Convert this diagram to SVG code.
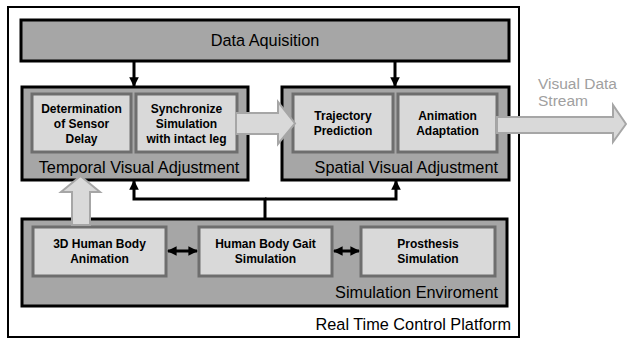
<svg xmlns="http://www.w3.org/2000/svg" width="627" height="339" viewBox="0 0 627 339">
<style>
.group{fill:#a6a6a6;stroke:#000;stroke-width:3}
.inner{fill:#d9d9d9;stroke:#6e6e6e;stroke-width:3}
.t{font-family:"Liberation Sans",Arial,sans-serif;fill:#000}
.b{font-family:"Liberation Sans",Arial,sans-serif;font-weight:bold;font-size:12px;fill:#000;text-anchor:middle}
.big{font-size:16.3px}
.grey{fill:#a0a0a0;font-size:15.5px}
.conn{fill:none;stroke:#000;stroke-width:3}
.hollow{fill:#d9d9d9;stroke:#a6a6a6;stroke-width:2}
</style>
<defs>
<marker id="ah" viewBox="0 0 10 10" refX="9" refY="5" markerWidth="3.2" markerHeight="3.2" orient="auto-start-reverse" markerUnits="strokeWidth">
<path d="M0,0 L10,5 L0,10 z" fill="#000"/>
</marker>
</defs>
<rect width="627" height="339" fill="#fff"/>
<g id="platform">
<rect x="8" y="7" width="511" height="330" fill="#fff" stroke="#000" stroke-width="2"/>
<text class="t big" x="511" y="330" text-anchor="end">Real Time Control Platform</text>
</g>
<g id="data-aquisition">
<rect class="group" x="21" y="20" width="488" height="41"/>
<text class="t big" x="265" y="46" text-anchor="middle">Data Aquisition</text>
</g>
<g id="temporal">
<rect class="group" x="22" y="87" width="226" height="93"/>
<text class="t big" x="139" y="173" text-anchor="middle">Temporal Visual Adjustment</text>
</g>
<g id="sensor-delay">
<rect class="inner" x="32" y="94" width="99" height="58"/>
<text class="b" x="81.5" y="113">Determination</text>
<text class="b" x="81.5" y="128">of Sensor</text>
<text class="b" x="81.5" y="143">Delay</text>
</g>
<g id="synchronize">
<rect class="inner" x="136" y="94" width="101" height="58"/>
<text class="b" x="186.5" y="113">Synchronize</text>
<text class="b" x="186.5" y="128">Simulation</text>
<text class="b" x="186.5" y="143">with intact leg</text>
</g>
<g id="spatial">
<rect class="group" x="282" y="87" width="227" height="93"/>
<text class="t big" x="498" y="173" text-anchor="end">Spatial Visual Adjustment</text>
</g>
<g id="trajectory">
<rect class="inner" x="293" y="94" width="100" height="58"/>
<text class="b" x="343" y="120">Trajectory</text>
<text class="b" x="343" y="135">Prediction</text>
</g>
<g id="animation-adaptation">
<rect class="inner" x="398" y="94" width="99" height="58"/>
<text class="b" x="447.5" y="120">Animation</text>
<text class="b" x="447.5" y="135">Adaptation</text>
</g>
<g id="simulation">
<rect class="group" x="22" y="219" width="485" height="87"/>
<text class="t big" x="498" y="298" text-anchor="end">Simulation Enviroment</text>
</g>
<g id="human-animation">
<rect class="inner" x="33" y="227" width="133" height="49"/>
<text class="b" x="99.5" y="248">3D Human Body</text>
<text class="b" x="99.5" y="263">Animation</text>
</g>
<g id="gait">
<rect class="inner" x="199" y="227" width="133" height="49"/>
<text class="b" x="265.5" y="248">Human Body Gait</text>
<text class="b" x="265.5" y="263">Simulation</text>
</g>
<g id="prosthesis">
<rect class="inner" x="361" y="227" width="134" height="49"/>
<text class="b" x="428" y="248">Prosthesis</text>
<text class="b" x="428" y="263">Simulation</text>
</g>
<g id="visual-data-label">
<text class="t grey" x="538" y="89">Visual Data</text>
<text class="t grey" x="538" y="106">Stream</text>
</g>
<g id="connectors">
<path class="conn" d="M134,61 V86" marker-end="url(#ah)"/>
<path class="conn" d="M395,61 V86" marker-end="url(#ah)"/>
<path class="conn" d="M265,219 V199 H134 V181" marker-end="url(#ah)"/>
<path class="conn" d="M265,199 H396 V181" marker-end="url(#ah)"/>
<path class="conn" d="M168,251 H197" marker-start="url(#ah)" marker-end="url(#ah)"/>
<path class="conn" d="M334,251 H359" marker-start="url(#ah)" marker-end="url(#ah)"/>
<path class="hollow" d="M236,113 H278 V102 L295,123.5 L278,144 V134 H236 Z"/>
<path class="hollow" d="M497,117 H613 V105 L626,124 L613,142 V133 H497 Z"/>
<path class="hollow" d="M72,225 V192 H61 L80.5,176 L100,192 H90 V225 Z"/>
</g>
</svg>
